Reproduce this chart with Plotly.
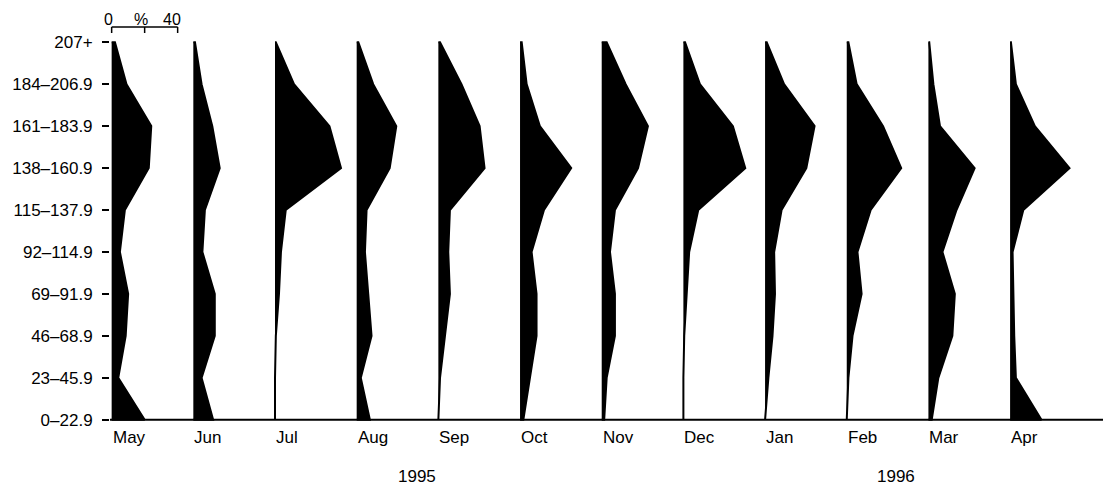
import plotly.graph_objects as go

# Size classes, bottom to top
size_classes = ["0–22.9", "23–45.9", "46–68.9", "69–91.9", "92–114.9",
                "115–137.9", "138–160.9", "161–183.9", "184–206.9", "207+"]

months = ["May", "Jun", "Jul", "Aug", "Sep", "Oct",
          "Nov", "Dec", "Jan", "Feb", "Mar", "Apr"]

# Percentage frequency of each size class per month (bottom class first)
may = [20, 4, 8.5, 10, 5, 8, 22.5, 24, 9, 2]
jun = [12, 5, 13, 13, 5.5, 7, 16, 11.5, 5, 1]
jul = [0, 0, 0.5, 2.4, 3.6, 6.5, 40, 33, 11.5, 0.5]
aug = [8, 2.5, 9, 7, 5, 6, 20, 24, 10, 1]
sep = [0, 1, 4, 7, 6, 7, 28, 25, 14, 1]
oct_ = [2, 6, 10, 10, 7, 14.5, 31, 12, 4, 1]
nov = [1.5, 3, 8, 8, 5, 8, 22, 28, 14.5, 3]
dec = [0, 0, 0.5, 2, 3.5, 9, 37.5, 30, 10, 1]
jan = [0, 2, 4.5, 6, 5.5, 10, 25, 30, 11.5, 1]
feb = [0, 1, 3.5, 9, 6.5, 14.5, 33, 22, 6, 1]
mar = [2, 6, 14.5, 16, 8.5, 17, 28, 7, 3, 0.5]
apr = [19, 3.5, 2.5, 2, 1.5, 8, 36, 15, 3.5, 0.5]

series = [may, jun, jul, aug, sep, oct_, nov, dec, jan, feb, mar, apr]

# Year labels, placed by month index
years = ["1995", "1996"]
year_pos = [3.74, 9.6]

SPACING = 49.5          # horizontal offset between month panels, in % units
FONT = "Liberation Sans, Arial, Helvetica, sans-serif"

fig = go.Figure()

levels = list(range(len(size_classes)))
for i, vals in enumerate(series):
    off = i * SPACING
    xs = [off] + [off + v for v in vals] + [off]
    ys = [0] + levels + [levels[-1]]
    fig.add_trace(go.Scatter(
        x=xs, y=ys, mode="lines", fill="toself",
        fillcolor="black", line=dict(color="black", width=2),
        hoverinfo="skip", showlegend=False,
    ))

annotations = []
for i, m in enumerate(months):
    annotations.append(dict(
        x=i * SPACING, y=-0.036, xref="x", yref="paper",
        text=m, showarrow=False, xanchor="left", yanchor="middle",
        xshift=-1, font=dict(family=FONT, size=17, color="black"),
    ))
for yr, p in zip(years, year_pos):
    annotations.append(dict(
        x=p * SPACING, y=-0.137, xref="x", yref="paper",
        text=yr, showarrow=False, xanchor="center", yanchor="middle",
        font=dict(family=FONT, size=17, color="black"),
    ))

# Percentage scale bar above the first panel
bar_y, tick_y = 1.0285, 1.013
shapes = [
    dict(type="line", xref="paper", yref="y", x0=0, x1=1, y0=0, y1=0,
         line=dict(color="black", width=2)),
    dict(type="line", xref="x", yref="paper", x0=0, x1=40, y0=bar_y, y1=bar_y,
         line=dict(color="black", width=1.5)),
]
for tv in (0, 20, 40):
    shapes.append(dict(type="line", xref="x", yref="paper", x0=tv, x1=tv,
                       y0=tick_y, y1=bar_y, line=dict(color="black", width=1.5)))
for txt, tx, dx in (("0", 0, -3), ("%", 20, -4), ("40", 40, -6)):
    annotations.append(dict(
        x=tx, y=1.047, xref="x", yref="paper", text=txt, showarrow=False,
        xanchor="center", yanchor="middle", xshift=dx,
        font=dict(family=FONT, size=16, color="black"),
    ))

fig.update_layout(
    width=1110, height=485,
    margin=dict(l=110, r=7, t=38, b=61, pad=0),
    paper_bgcolor="white", plot_bgcolor="white",
    showlegend=False,
    xaxis=dict(range=[-1, 600.8], showgrid=False, zeroline=False,
               showticklabels=False, ticks="", showline=False),
    yaxis=dict(range=[-0.1, 9.1], tickmode="array", tickvals=levels,
               ticktext=size_classes, ticks="outside", ticklen=7,
               tickwidth=1.5, tickcolor="black", showgrid=False,
               zeroline=False, showline=False, ticklabelstandoff=6,
               tickfont=dict(family=FONT, size=17, color="black")),
    shapes=shapes,
    annotations=annotations,
)

fig.write_html("out.html")
